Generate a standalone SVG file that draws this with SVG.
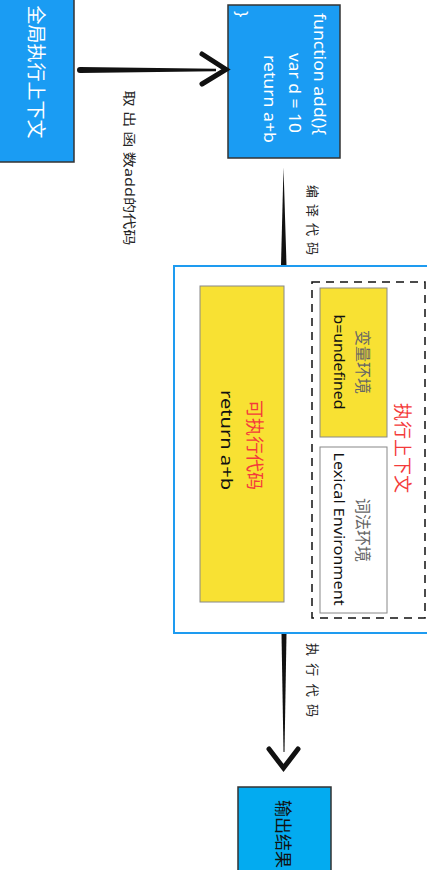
<svg xmlns="http://www.w3.org/2000/svg" width="427" height="870" viewBox="0 0 427 870">
<style>
text{font-family:"Noto Sans","Noto Sans CJK SC",sans-serif;dominant-baseline:central}
.c{text-anchor:middle}
.s{text-anchor:start}
.node{stroke:#333;stroke-width:1.5}
.blue{fill:#1a9cf3}
.cyan{fill:#03abf0}
.yellow{fill:#f8e133;stroke:#888;stroke-width:1}
.white{fill:#fff;stroke:#888;stroke-width:1}
.wt{fill:#fff}
.lbl{fill:#222;font-size:13px}
.red{fill:#f43b3b}
.gray{fill:#666}
.chev{fill:none;stroke:#111;stroke-width:5;stroke-linejoin:miter;stroke-linecap:round}
</style>
<g id="global-context">
<rect class="node blue" x="-5" y="-5" width="79" height="167"/>
<text class="c wt" font-size="19" transform="translate(36,72) rotate(90)">全局执行上下文</text>
</g>
<g id="function-add">
<rect class="node blue" x="228" y="5" width="112" height="153"/>
<text class="s wt" font-size="17" transform="translate(320,13) rotate(90)" textLength="122" lengthAdjust="spacingAndGlyphs">function add(){</text>
<text class="s wt" font-size="17" transform="translate(295,53) rotate(90)" textLength="80" lengthAdjust="spacingAndGlyphs">var d = 10</text>
<text class="s wt" font-size="17" transform="translate(270,55) rotate(90)" textLength="88" lengthAdjust="spacingAndGlyphs">return  a+b</text>
<text class="s wt" font-size="17" transform="translate(242,11) rotate(90)">}</text>
</g>
<g id="exec-box">
<rect x="174" y="266" width="300" height="367" fill="#fff" stroke="#1e9bf0" stroke-width="2"/>
</g>
<g id="executable-code">
<rect class="yellow" x="200" y="286" width="84" height="316"/>
<text class="c red" font-size="18" transform="translate(255,445) rotate(90)">可执行代码</text>
<text class="c" fill="#111" font-size="17" transform="translate(227,440) rotate(90)" textLength="100" lengthAdjust="spacingAndGlyphs">return  a+b</text>
</g>
<g id="execution-context">
<rect x="312" y="282" width="113" height="336" fill="none" stroke="#111" stroke-width="1.5" stroke-dasharray="8 6"/>
<text class="c red" font-size="18" transform="translate(403,448) rotate(90)">执行上下文</text>
</g>
<g id="variable-env">
<rect class="yellow" x="320" y="288" width="67" height="149"/>
<text class="c gray" font-size="16" transform="translate(363,362) rotate(90)">变量环境</text>
<text class="c" fill="#111" font-size="15" transform="translate(340,362) rotate(90)" textLength="95" lengthAdjust="spacingAndGlyphs">b=undefined</text>
</g>
<g id="lexical-env">
<rect class="white" x="320" y="447" width="67" height="166"/>
<text class="c gray" font-size="16" transform="translate(363,530) rotate(90)">词法环境</text>
<text class="c" fill="#111" font-size="15" transform="translate(340,529) rotate(90)" textLength="153" lengthAdjust="spacingAndGlyphs">Lexical Environment</text>
</g>
<g id="output">
<rect class="node cyan" x="238" y="787" width="93" height="90"/>
<text class="c" fill="#111" font-size="17" transform="translate(283,834) rotate(90)">输出结果</text>
</g>
<g id="connectors">
<path d="M77,70 Q77,67 80,67 L216,68.8 L216,71.2 L80,73 Q77,73 77,70 Z" fill="#111"/>
<polyline class="chev" points="202,54 226,69.5 202,84"/>
<text class="c lbl" transform="translate(130,168) rotate(90)" textLength="155" lengthAdjust="spacingAndGlyphs">取 出 函 数add的代码</text>
<path d="M283.5,167 L286.5,265 L281,265 Z" fill="#111"/>
<text class="c lbl" transform="translate(313,220) rotate(90)" textLength="70" lengthAdjust="spacing">编译代码</text>
<path d="M281.5,634 L286.5,634 L284.5,752 L283.5,752 Z" fill="#111"/>
<polyline class="chev" points="269,749 283.5,768 298,749"/>
<text class="c lbl" transform="translate(313,680) rotate(90)" textLength="74" lengthAdjust="spacing">执行代码</text>
</g>
</svg>
